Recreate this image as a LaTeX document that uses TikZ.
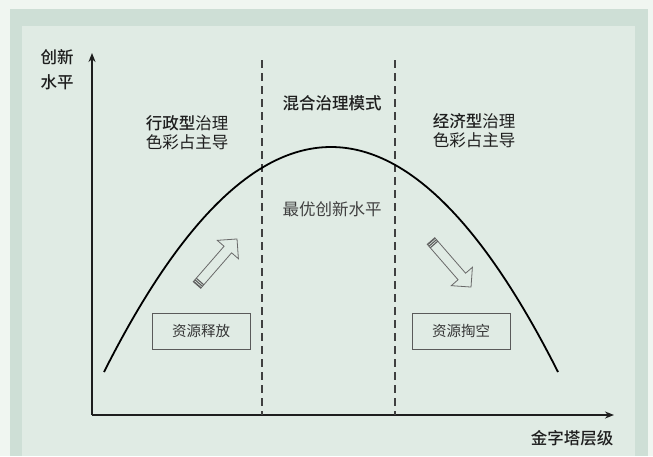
\documentclass[tikz,border=0pt]{standalone}
\usepackage{fontspec}
\setmainfont{Noto Sans CJK SC}[BoldFont={Noto Sans CJK SC Medium}]
\usetikzlibrary{arrows.meta}
\definecolor{outerbg}{RGB}{240,246,241}
\definecolor{band}{RGB}{206,223,214}
\definecolor{inner}{RGB}{224,235,228}
\definecolor{ink}{RGB}{30,30,30}
\definecolor{boxline}{RGB}{90,90,90}
\definecolor{arrowline}{RGB}{105,105,105}
\tikzset{
  axis/.style={line width=1.8pt, draw=ink, -{Stealth[length=9pt,width=7pt]}},
  divider/.style={line width=1.2pt, draw=ink!85, dash pattern=on 8pt off 5pt},
  curveline/.style={line width=1.8pt, draw=black},
  lbl/.style={font=\fontsize{16.5}{19}\selectfont, text=ink, align=center, inner sep=0pt},
  boldlbl/.style={lbl, font=\fontsize{16.5}{19}\selectfont\bfseries},
  boxlbl/.style={draw=boxline, line width=1pt, minimum width=98pt, minimum height=36pt, font=\fontsize{14.5}{16}\selectfont, text=ink!90, inner sep=0pt},
  hollowarrow/.style={draw=arrowline, line width=0.8pt, line join=miter},
  capline/.style={draw=arrowline!90!black, line width=1.1pt}
}
\newcommand{\blockarrow}[3]{%
  \begin{scope}[shift={#1}, rotate=#2]
    \draw[hollowarrow] (0,-5) -- (47,-5) -- (47,-14) -- (#3,0) -- (47,14) -- (47,5) -- (0,5) -- cycle;
    \foreach \s in {0.6,2.6,4.6} \draw[capline] (\s,-5) -- (\s,5);
  \end{scope}}
\begin{document}
\begin{tikzpicture}[x=1pt,y=-1pt]
\useasboundingbox (0,0) rectangle (653,456);
\fill[outerbg] (0,0) rectangle (653,456);
\fill[band] (10,9) rectangle (648,456);
\fill[inner] (22,26) rectangle (635,456);

% axes
\coordinate (O) at (92,415);
\coordinate (Ytip) at (92,53);
\coordinate (Xtip) at (614,415);
\draw[axis] (O) -- (Ytip);
\draw[axis] (O) -- (Xtip);

% dividers
\coordinate (d1t) at (262,60);
\coordinate (d1b) at (262,415);
\coordinate (d2t) at (395,60);
\coordinate (d2b) at (395,415);
\draw[divider] (d1t) -- (d1b);
\draw[divider] (d2t) -- (d2b);

% curve
\coordinate (c0) at (104,372);
\coordinate (c3) at (558,372);
\draw[curveline] (c0) .. controls (255.3,72) and (406.7,72) .. (c3);

% labels
\node[boldlbl, font=\fontsize{16.5}{25}\selectfont\bfseries] (ylab) at (57,70) {创新\\水平};
\node[boldlbl] (xlab) at (572,438) {金字塔层级};
\node[lbl] (left) at (187,133) {\textbf{行政型}治理\\色彩占主导};
\node[lbl] (right) at (474,131) {\textbf{经济型}治理\\色彩占主导};
\node[boldlbl] (mid) at (332,103) {混合治理模式};
\node[lbl, text=ink!85] (opt) at (332,209) {最优创新水平};

% boxes
\node[boxlbl] (release) at (201,331) {资源释放};
\node[boxlbl] (drain) at (461,331) {资源掏空};

% hollow arrows
\blockarrow{(197,285)}{49}{61}
\blockarrow{(431,241)}{-49}{61}
\end{tikzpicture}
\end{document}
